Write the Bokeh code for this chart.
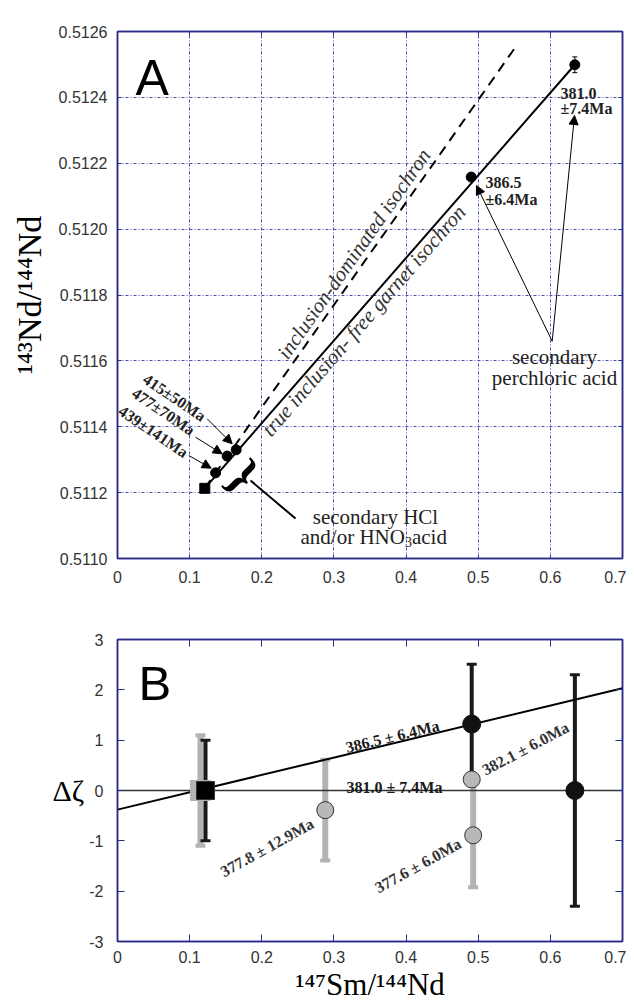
from bokeh.plotting import figure
from bokeh.models import (Range1d, FixedTicker, LinearAxis, Label, Arrow, NormalHead,
                          Whisker, TeeHead, ColumnDataSource, PrintfTickFormatter)
from bokeh.layouts import column
from bokeh.embed import file_html
from bokeh.resources import INLINE

# ---------------- data : panel A (isochron diagram) ----------------
a_sq_x = [0.121]
a_sq_y = [0.511213]
a_pt_x = [0.136, 0.152, 0.1645, 0.4903, 0.6339]
a_pt_y = [0.51126, 0.511311, 0.51133, 0.512158, 0.512499]
a_err_x = [0.6339]
a_err_y = [0.512499]
a_err = [0.000024]
iso_true_x = [0.121, 0.6339]
iso_true_y = [0.511213, 0.512499]
iso_incl_x = [0.121, 0.554]
iso_incl_y = [0.511213, 0.51256]
a_xticks = [0.0, 0.1, 0.2, 0.3, 0.4, 0.5, 0.6, 0.7]
a_yticks = [0.5110, 0.5112, 0.5114, 0.5116, 0.5118, 0.5120, 0.5122, 0.5124, 0.5126]
a_xgrid = [0.1, 0.2, 0.3, 0.4, 0.5, 0.6]
a_ygrid = [0.5112, 0.5114, 0.5116, 0.5118, 0.5120, 0.5122, 0.5124]
a_low_ages = ["415±50Ma", "477±70Ma", "439±141Ma"]
a_ylabel = "¹⁴³Nd/¹⁴⁴Nd"

# ---------------- data : panel B (residuals) ----------------
b_gsq_x = [0.115]; b_gsq_y = [0.0]; b_gsq_e = [1.1]
b_bsq_x = [0.122]; b_bsq_y = [0.0]; b_bsq_e = [1.0]
b_gc_x = [0.288, 0.491, 0.493]; b_gc_y = [-0.39, 0.22, -0.89]
b_gc_err_x = [0.288, 0.493]; b_gc_err_y = [-0.39, -0.89]; b_gc_err = [1.0, 1.03]
b_bc_x = [0.491, 0.634]; b_bc_y = [1.32, 0.0]; b_bc_e = [1.19, 2.3]
b_fit1_x = [0.0, 0.7]; b_fit1_y = [-0.38, 2.03]
b_fit0_x = [0.0, 0.7]; b_fit0_y = [0.0, 0.0]
b_xticks = [0.0, 0.1, 0.2, 0.3, 0.4, 0.5, 0.6, 0.7]
b_yticks = [-3, -2, -1, 0, 1, 2, 3]
b_ytick_labels = {-3: "-3", -2: "-2", -1: "-1", 0: "0", 1: "1", 2: "2", 3: "3"}
b_xlabel = "¹⁴⁷Sm/¹⁴⁴Nd"
b_ylabel = "Δζ"

NAVY = "#2b2b88"
SERIF = "Liberation Serif"
SANS = "Liberation Sans"
GRAY = "#b3b3b3"

# pixel helpers for annotation placement (page pixels -> data units)
def ax_(px):
    return (px - 117) / 505 * 0.7

def ay_(py):
    return 0.5126 - (py - 31) / 527 * 0.0016

def by_(py):
    return 3 - (py - 639) / 302 * 6


def frame_axes(p, xticks, yticks, tick_len, xstand, ystand):
    xa = p.below[0]
    ya = p.left[0]
    xa.ticker = FixedTicker(ticks=xticks)
    ya.ticker = FixedTicker(ticks=yticks)
    for a in (xa, ya):
        a.major_tick_in = tick_len
        a.major_tick_out = 0
        a.minor_tick_in = 0
        a.minor_tick_out = 0
        a.axis_line_color = NAVY
        a.axis_line_width = 1.5
        a.major_tick_line_color = NAVY
        a.major_label_text_font = SANS
        a.major_label_text_font_size = "16px"
        a.major_label_text_color = "#333333"
        a.axis_label_text_font = SERIF
        a.axis_label_text_font_style = "normal"
        a.axis_label_text_color = "black"
    xa.major_label_standoff = xstand
    ya.major_label_standoff = ystand
    xa.major_label_overrides = {0: "0"}
    # frame ticks on top and right, drawn as label-free minor ticks
    for loc, t in (("above", xticks), ("right", yticks)):
        a = LinearAxis(ticker=FixedTicker(ticks=[], minor_ticks=t), major_tick_in=0,
                       major_tick_out=0, minor_tick_in=tick_len, minor_tick_out=0,
                       axis_line_color=NAVY, axis_line_width=1.5,
                       minor_tick_line_color=NAVY, major_label_standoff=0)
        p.add_layout(a, loc)
    p.outline_line_color = NAVY
    p.outline_line_width = 1.5
    return xa, ya


def lab(p, x, y, text, size, font=SERIF, style="normal", angle=0.0, align="left",
        baseline="alphabetic", color="black"):
    p.add_layout(Label(x=x, y=y, text=text, text_font=font, text_font_size=f"{size}px",
                       text_font_style=style, angle=angle, angle_units="deg",
                       text_align=align, text_baseline=baseline, text_color=color))


def arrow(p, x0, y0, x1, y1):
    p.add_layout(Arrow(end=NormalHead(size=9, fill_color="black", line_color="black", line_width=1),
                       x_start=x0, y_start=y0, x_end=x1, y_end=y1,
                       line_width=1, line_color="black"))

# ======================= Panel A =======================
pA = figure(x_range=Range1d(0, 0.7), y_range=Range1d(0.5110, 0.5126),
            frame_width=505, frame_height=527, min_border_left=117, min_border_right=4,
            min_border_top=31, min_border_bottom=42, toolbar_location=None,
            output_backend="svg", background_fill_color="white")
axA_x, axA_y = frame_axes(pA, a_xticks, a_yticks, 4, 12, 10)
axA_y.formatter = PrintfTickFormatter(format="%.4f")
axA_y.axis_label = a_ylabel
axA_y.axis_label_text_font_size = "34px"
axA_y.axis_label_standoff = 8
pA.xgrid.ticker = FixedTicker(ticks=a_xgrid)
pA.ygrid.ticker = FixedTicker(ticks=a_ygrid)
for g in (pA.xgrid[0], pA.ygrid[0]):
    g.grid_line_color = "#4a4aa8"
    g.grid_line_dash = "3 2 1 2"
    g.grid_line_width = 1

pA.line(iso_incl_x, iso_incl_y, line_color="black", line_width=2, line_dash="10 7")
pA.line(iso_true_x, iso_true_y, line_color="black", line_width=2)
errsrc = ColumnDataSource(dict(base=a_err_x, upper=[y + e for y, e in zip(a_err_y, a_err)],
                               lower=[y - e for y, e in zip(a_err_y, a_err)]))
pA.add_layout(Whisker(source=errsrc, base="base", upper="upper", lower="lower",
                      dimension="height", line_color="black", line_width=1,
                      upper_head=TeeHead(size=5, line_width=1),
                      lower_head=TeeHead(size=5, line_width=1)))
pA.scatter(a_sq_x, a_sq_y, marker="square", size=10, fill_color="black", line_color="black")
pA.scatter(a_pt_x, a_pt_y, marker="circle", size=10, fill_color="black", line_color="black")

lab(pA, ax_(135), ay_(77), "A", 50, font=SANS)
lab(pA, ax_(353.5), ay_(253.3), "inclusion-dominated isochron", 21, style="italic",
    angle=55, align="center", baseline="middle", color="#333333")
lab(pA, ax_(363.3), ay_(320), "true inclusion- free garnet isochron", 21, style="italic",
    angle=49, align="center", baseline="middle", color="#333333")

# ages of the low-Sm/Nd fractions
for txt, (cx, cy) in zip(a_low_ages, [(174, 397), (163, 411), (153, 431)]):
    lab(pA, ax_(cx), ay_(cy), txt, 16, style="bold", angle=-34, align="center",
        baseline="middle", color="#222222")
arrow(pA, ax_(206.7), ay_(418.3), ax_(231.7), ay_(443.3))
arrow(pA, ax_(195), ay_(436.7), ax_(221.7), ay_(453.3))
arrow(pA, ax_(188.3), ay_(455), ax_(210.7), ay_(467.7))

lab(pA, ax_(485), ay_(181.7), "386.5", 16, style="bold", color="#222222")
lab(pA, ax_(485), ay_(199), "±6.4Ma", 16, style="bold", color="#222222")
lab(pA, ax_(560), ay_(92.7), "381.0", 16, style="bold", color="#222222")
lab(pA, ax_(560), ay_(108.3), "±7.4Ma", 16, style="bold", color="#222222")

arrow(pA, ax_(551.7), ay_(340.7), ax_(476), ay_(185))
arrow(pA, ax_(551.7), ay_(340.7), ax_(574), ay_(115))
lab(pA, ax_(554), ay_(356), "secondary", 21, align="center", color="#222222")
lab(pA, ax_(554), ay_(377), "perchloric acid", 21, align="center", color="#222222")

# brace + leader
lab(pA, ax_(243), ay_(475), "}", 50, style="bold", angle=-45, align="center", baseline="middle")
pA.line([ax_(250), ax_(295)], [ay_(480), ay_(518)], line_color="black", line_width=2)
lab(pA, ax_(375), ay_(516), "secondary HCl", 21, align="center", color="#222222")
lab(pA, ax_(300), ay_(536.5), "and/or HNO", 21, color="#222222")
lab(pA, ax_(404.4), ay_(541), "3", 14, color="#222222")
lab(pA, ax_(411.4), ay_(536.5), " acid", 21, color="#222222")

# ======================= Panel B =======================
pB = figure(x_range=Range1d(0, 0.7), y_range=Range1d(-3, 3),
            frame_width=505, frame_height=302, min_border_left=117, min_border_right=4,
            min_border_top=39, min_border_bottom=63, toolbar_location=None,
            output_backend="svg", background_fill_color="white")
axB_x, axB_y = frame_axes(pB, b_xticks, b_yticks, 7, 9, 14)
axB_y.major_label_overrides = b_ytick_labels
pB.grid.visible = False
axB_x.axis_label = b_xlabel
axB_x.axis_label_text_font_size = "31px"
axB_x.axis_label_standoff = 1
axB_y.axis_label = b_ylabel
axB_y.axis_label_text_font_size = "30px"
axB_y.axis_label_standoff = 2
axB_y.axis_label_orientation = "horizontal"


def whisk(p, xs, ys, es, color, width, head, headw):
    src = ColumnDataSource(dict(base=xs, upper=[y + e for y, e in zip(ys, es)],
                                lower=[y - e for y, e in zip(ys, es)]))
    p.add_layout(Whisker(source=src, base="base", upper="upper", lower="lower",
                         dimension="height", line_color=color, line_width=width,
                         upper_head=TeeHead(size=head, line_color=color, line_width=headw),
                         lower_head=TeeHead(size=head, line_color=color, line_width=headw)))

whisk(pB, b_gsq_x, b_gsq_y, b_gsq_e, GRAY, 6, 10, 4)
whisk(pB, b_gc_err_x, b_gc_err_y, b_gc_err, GRAY, 6, 10, 4)
whisk(pB, b_bsq_x, b_bsq_y, b_bsq_e, "#1a1a1a", 4, 10, 3)
whisk(pB, b_bc_x, b_bc_y, b_bc_e, "#1a1a1a", 4, 10, 3)

pB.line(b_fit0_x, b_fit0_y, line_color="#333333", line_width=1.5)
pB.line(b_fit1_x, b_fit1_y, line_color="black", line_width=2)

pB.scatter(b_gsq_x, b_gsq_y, marker="square", size=20, fill_color=GRAY, line_color=GRAY)
pB.scatter(b_bsq_x, b_bsq_y, marker="square", size=18, fill_color="black", line_color="#333333")
pB.scatter(b_gc_x, b_gc_y, marker="circle", size=17, fill_color="#b8b8b8", line_color="#333333")
pB.scatter(b_bc_x, b_bc_y, marker="circle", size=18, fill_color="#111111", line_color="#111111")

lab(pB, ax_(138), by_(682), "B", 49, font=SANS)
lab(pB, ax_(392), by_(736), "386.5 ± 6.4Ma", 16, style="bold", angle=13.5, align="center",
    baseline="middle", color="#1a1a1a")
lab(pB, ax_(394), by_(787), "381.0 ± 7.4Ma", 16, style="bold", align="center",
    color="#1a1a1a")
lab(pB, ax_(525), by_(748), "382.1 ± 6.0Ma", 16, style="bold", angle=28, align="center",
    baseline="middle", color="#333333")
lab(pB, ax_(417.5), by_(865), "377.6 ± 6.0Ma", 16, style="bold", angle=29, align="center",
    baseline="middle", color="#333333")
lab(pB, ax_(266.5), by_(847), "377.8 ± 12.9Ma", 16, style="bold", angle=29, align="center",
    baseline="middle", color="#333333")

layout = column(pA, pB)
open("out.html", "w").write(file_html(layout, INLINE))
